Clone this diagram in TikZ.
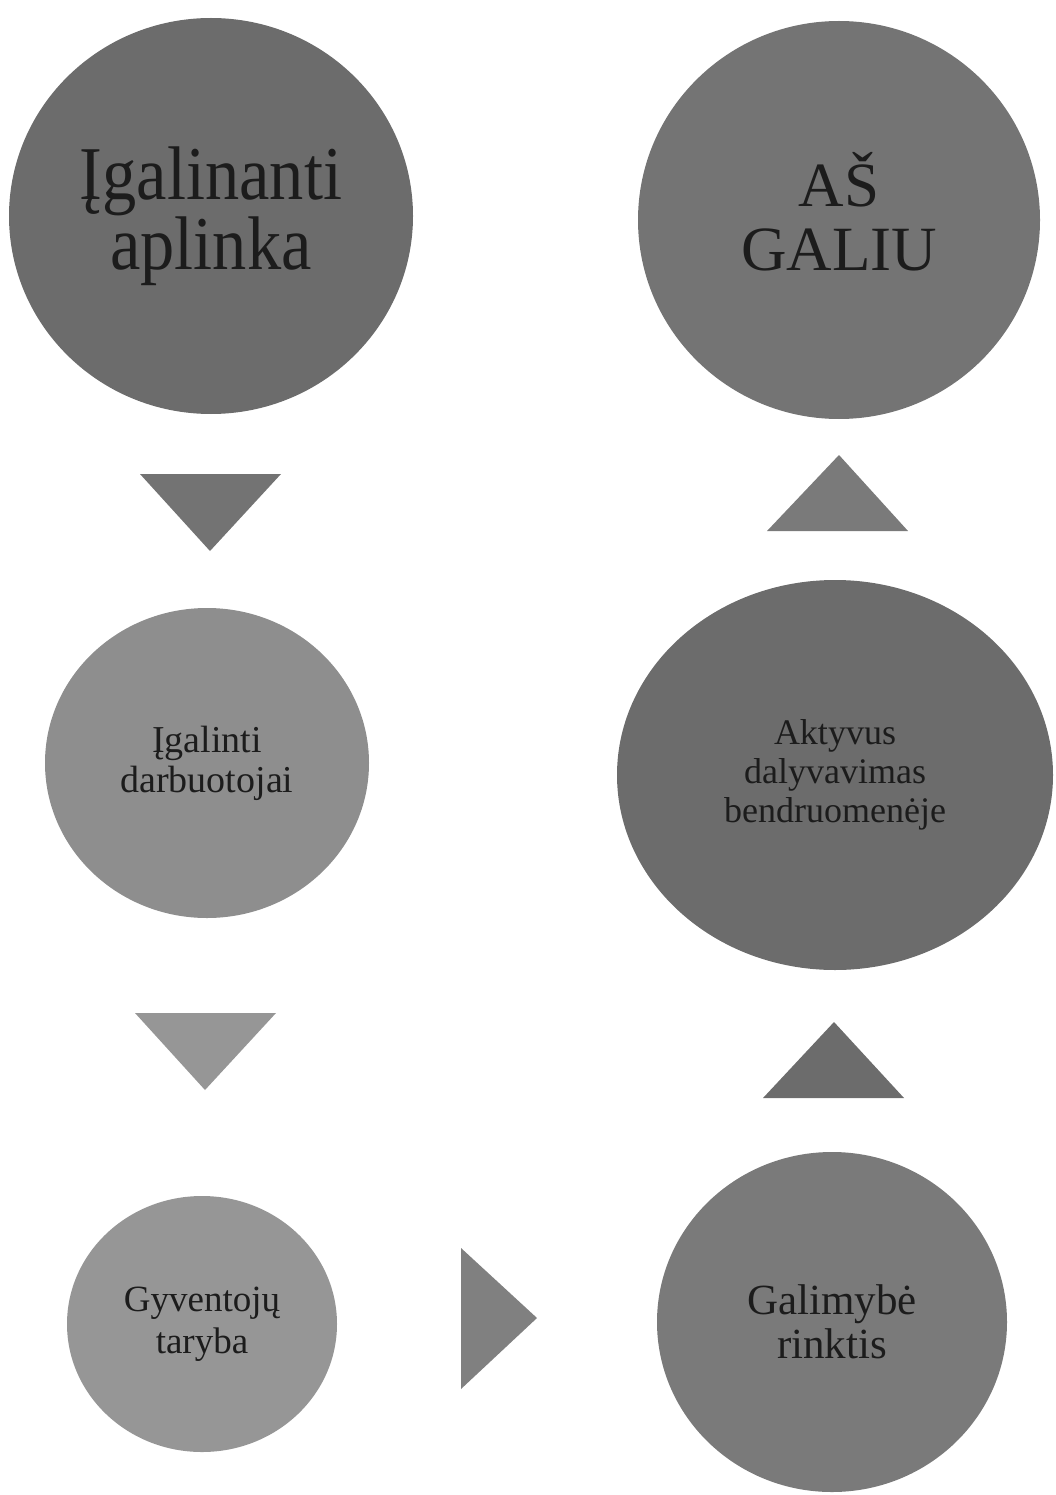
\documentclass[tikz,border=0pt]{standalone}
\usepackage{fontspec}
\setmainfont{Liberation Serif}
\newfontfamily\narrowserif{Liberation Serif}[FakeStretch=0.9]
\usetikzlibrary{shapes.geometric}
\definecolor{grdark}{RGB}{108,108,108}
\definecolor{grmid}{RGB}{122,122,122}
\definecolor{grlight}{RGB}{150,150,150}
\definecolor{txtgr}{RGB}{28,28,28}

\begin{document}
\begin{tikzpicture}[
    x=1pt, y=-1pt,
    blob/.style={ellipse,inner sep=0pt,align=center,text=txtgr},
    big/.style={font=\narrowserif\fontsize{76}{70}\selectfont},
    small/.style={font=\fontsize{38}{40}\selectfont}
]
  \useasboundingbox (0,0) rectangle (1055,1495);

  % Left column
  \node[blob,big,fill=grdark,minimum width=404pt,minimum height=396pt] (enviro) at (211,216) {Įgalinanti\\aplinka};
  \node[blob,small,fill=grlight!95!black,minimum width=324pt,minimum height=310pt] (staff) at (207,763) {Įgalinti\\darbuotojai};
  \node[blob,small,fill=grlight,minimum width=270pt,minimum height=256pt,
        font=\fontsize{37}{42}\selectfont] (council) at (202,1324) {Gyventojų\\taryba};

  % Right column
  \node[blob,fill=grmid!95!black,minimum width=402pt,minimum height=398pt,text depth=18pt,
        font=\fontsize{63}{64}\selectfont] (can) at (839,220) {AŠ\\GALIU};
  \node[blob,small,fill=grdark,minimum width=436pt,minimum height=390pt,
        font=\fontsize{36}{39}\selectfont] (active) at (835,775) {Aktyvus\\dalyvavimas\\bendruomenėje};
  \node[blob,small,fill=grmid,minimum width=350pt,minimum height=340pt,
        font=\fontsize{43}{44}\selectfont] (choice) at (832,1322) {Galimybė\\rinktis};

  % Triangles
  \fill[grdark!95!white] (140,474) -- (281,474) -- (210,551) -- cycle;
  \fill[grlight] (135,1013) -- (276,1013) -- (205,1090) -- cycle;
  \fill[grmid] (767,531) -- (908,531) -- (839,455) -- cycle;
  \fill[grdark] (763,1098) -- (904,1098) -- (834,1022) -- cycle;
  \fill[grmid!80!grlight] (461,1248) -- (461,1389) -- (537,1318) -- cycle;
\end{tikzpicture}
\end{document}
